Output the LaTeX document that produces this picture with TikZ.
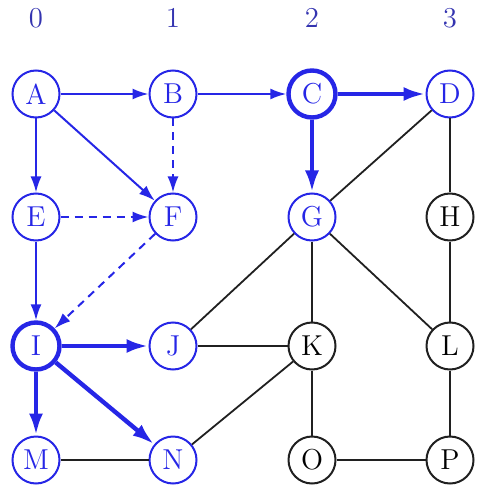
\documentclass[tikz,border=0pt]{standalone}
\usepackage{tikz}
\usetikzlibrary{arrows.meta,positioning}
\definecolor{cV}{HTML}{2626E6}
\definecolor{cL}{HTML}{3434B0}
\definecolor{cK}{HTML}{202020}
\tikzset{
  vtx/.style={circle,draw=cK,line width=1pt,minimum size=23.5pt,inner sep=0pt,font=\Large},
  seen/.style={vtx,draw=cV,text=cV},
  cur/.style={seen,line width=2.2pt},
  col/.style={text=cL,font=\Large},
  edge/.style={cK,line width=0.9pt},
  tree/.style={-{Latex[length=8pt,width=5.5pt]},cV,line width=1pt},
  treeb/.style={-{Latex[length=11pt,width=7pt]},cV,line width=2.2pt},
  back/.style={tree,dashed,dash pattern=on 4pt off 3pt},
}
\begin{document}
\begin{tikzpicture}[x=0.5pt,y=-0.5pt]
\useasboundingbox (0,0) rectangle (491,496);
% column labels
\foreach \c/\x in {0/36,1/173,2/312,3/450}
  \node[col] (c\c) at (\x,18) {\c};
% vertices
\node[seen] (A) at (36,94) {A};
\node[seen] (B) at (173,94) {B};
\node[cur]  (C) at (312,94) {C};
\node[seen] (D) at (450,94) {D};
\node[seen] (E) at (36,217) {E};
\node[seen] (F) at (173,217) {F};
\node[seen] (G) at (312,217) {G};
\node[vtx]  (H) at (450,217) {H};
\node[cur]  (I) at (36,346) {I};
\node[seen] (J) at (173,346) {J};
\node[vtx]  (K) at (312,346) {K};
\node[vtx]  (L) at (450,346) {L};
\node[seen] (M) at (36,460) {M};
\node[seen] (N) at (173,460) {N};
\node[vtx]  (O) at (312,460) {O};
\node[vtx]  (P) at (450,460) {P};
% plain edges
\foreach \u/\v in {D/G,D/H,G/J,G/K,G/L,H/L,J/K,K/N,K/O,L/P,M/N,O/P}
  \draw[edge] (\u) -- (\v);
% search edges
\draw[tree] (A) -- (B);
\draw[tree] (A) -- (E);
\draw[tree] (A) -- (F);
\draw[tree] (B) -- (C);
\draw[tree] (E) -- (I);
\draw[back] (B) -- (F);
\draw[back] (E) -- (F);
\draw[back] (F) -- (I);
\draw[treeb] (C) -- (D);
\draw[treeb] (C) -- (G);
\draw[treeb] (I) -- (J);
\draw[treeb] (I) -- (M);
\draw[treeb] (I) -- (N);
\end{tikzpicture}
\end{document}
